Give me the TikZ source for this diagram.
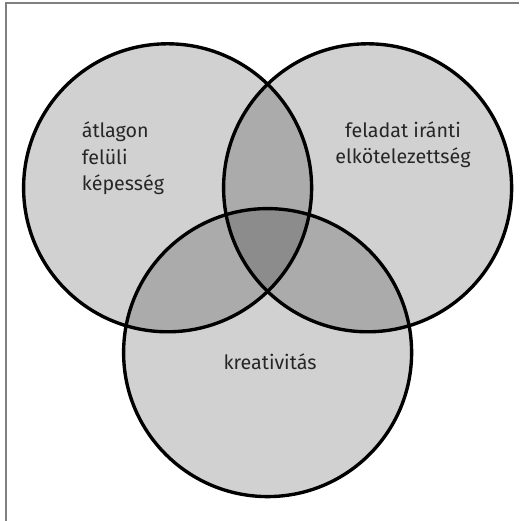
\documentclass[tikz,border=0pt]{standalone}
\usepackage{fontspec}
\setmainfont{Fira Sans}
\begin{document}
\begin{tikzpicture}
        [set/.style={circle, draw=black, line width=2.4pt, fill=black, fill opacity=.18, minimum size=7.2cm, inner sep=0pt},
        setname/.style={black!85, font=\fontsize{14}{18.9}\selectfont, inner sep=0pt},
        frame/.style={gray, line width=.9pt}]

        \useasboundingbox (0,0) rectangle (12.975,13.025);

        \draw [frame] (0.15,0) -- (0.15,12.95) -- (12.975,12.95);

        \node [set] (abil) at (4.19, 8.33) {};
        \node [set] (commit) at (9.19, 8.33) {};
        \node [set] (creat) at (6.69, 4.21) {};

        \node [setname, anchor=base west, align=left] (abiltext) at (2.04, 8.25) {átlagon\\felüli\\képesség};
        \node [setname, anchor=base, align=center] (committext) at (10.075, 8.925) {feladat iránti\\elkötelezettség};
        \node [setname, anchor=base] (creattext) at (6.75, 3.775) {kreativitás};
\end{tikzpicture}
\end{document}
